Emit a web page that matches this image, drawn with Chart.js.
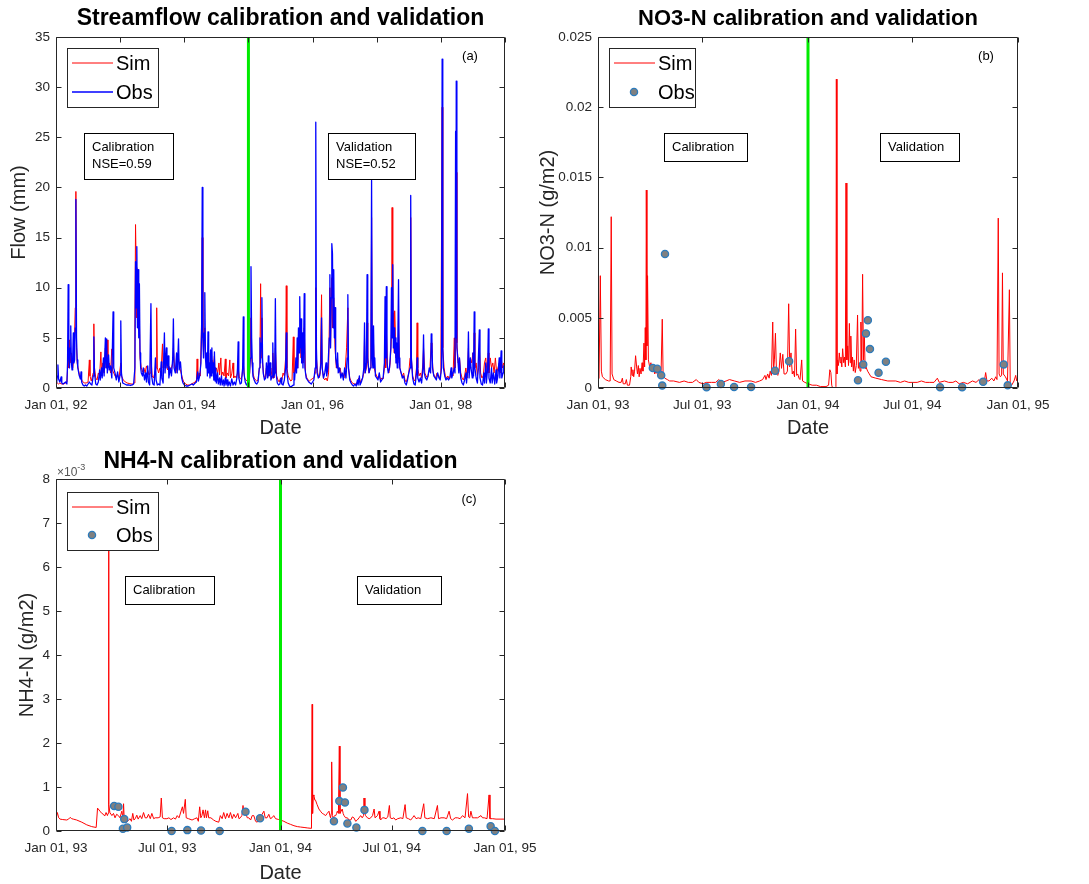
<!DOCTYPE html>
<html>
<head>
<meta charset="utf-8">
<title>Calibration and validation</title>
<script src="https://cdn.jsdelivr.net/npm/chart.js@4.4.1/dist/chart.umd.min.js"></script>
<style>
  html, body { margin: 0; padding: 0; background: #fff; }
  #wrap { position: relative; width: 1089px; height: 884px; overflow: hidden; }
  canvas { position: absolute; }
</style>
</head>
<body>
<div id="wrap">
  <canvas id="chartFlow" width="525" height="442" style="left:0px;top:0px"></canvas>
  <canvas id="chartNO3" width="564" height="442" style="left:525px;top:0px"></canvas>
  <canvas id="chartNH4" width="580" height="442" style="left:0px;top:442px"></canvas>
</div>
<script>
/*
  Three MATLAB-style panels redrawn with Chart.js.
  x values are decimal years.
*/

// ---- data ----
const splitFlow = 1995;   // calibration / validation split, streamflow
const splitNut = 1994;    // split for NO3-N and NH4-N

const flowTicks = [1992, 1993, 1994, 1995, 1996, 1997, 1998, 1999];
const flowTickLabels = ['Jan 01, 92', '', 'Jan 01, 94', '', 'Jan 01, 96', '', 'Jan 01, 98', ''];
const nutTicks = [1993, 1993.496, 1994, 1994.496, 1995];
const nutTickLabels = ['Jan 01, 93', 'Jul 01, 93', 'Jan 01, 94', 'Jul 01, 94', 'Jan 01, 95'];

// streamflow (mm), [year, value]
const flowObs = [
  [1992.00,0.8],[1992.01,0.5],[1992.02,1.2],[1992.03,2.3],[1992.04,0.9],[1992.06,0.6],[1992.08,1.1],[1992.09,0.5],[1992.11,0.4],[1992.13,0.5],
  [1992.15,0.6],[1992.17,0.4],[1992.18,2.5],[1992.19,10.3],[1992.20,3.0],[1992.21,2.0],[1992.22,4.0],[1992.23,6.2],[1992.24,2.5],[1992.25,1.8],
  [1992.26,3.0],[1992.27,5.5],[1992.28,2.5],[1992.29,2.8],[1992.30,6.0],[1992.31,18.8],[1992.32,5.0],[1992.33,2.8],[1992.34,2.0],[1992.36,1.3],
  [1992.38,0.9],[1992.39,1.6],[1992.40,0.6],[1992.42,0.3],[1992.44,0.2],[1992.46,0.3],[1992.48,0.2],[1992.50,0.4],[1992.52,0.6],[1992.54,0.4],
  [1992.56,0.3],[1992.58,1.2],[1992.59,5.1],[1992.60,1.5],[1992.62,0.4],[1992.64,0.3],[1992.66,0.6],[1992.68,1.8],[1992.69,0.8],[1992.71,2.0],
  [1992.72,1.0],[1992.74,3.0],[1992.75,1.2],[1992.77,5.0],[1992.78,2.0],[1992.79,4.9],[1992.80,1.5],[1992.82,3.3],[1992.83,1.8],[1992.85,2.2],
  [1992.87,1.0],[1992.89,7.6],[1992.90,2.0],[1992.92,1.5],[1992.94,0.8],[1992.96,1.6],[1992.98,0.6],[1993.00,1.3],[1993.01,6.7],[1993.02,1.5],
  [1993.04,0.5],[1993.07,0.4],[1993.10,0.3],[1993.13,0.3],[1993.16,0.25],[1993.19,0.3],[1993.21,0.4],[1993.23,2.0],[1993.24,12.6],[1993.25,8.0],
  [1993.26,14.1],[1993.27,6.0],[1993.28,11.8],[1993.29,5.0],[1993.30,10.4],[1993.31,3.5],[1993.32,2.0],[1993.33,1.5],[1993.35,1.2],[1993.36,2.0],
  [1993.38,0.8],[1993.40,1.5],[1993.41,0.6],[1993.43,2.2],[1993.44,0.6],[1993.46,0.3],[1993.48,8.4],[1993.49,1.2],[1993.51,0.4],[1993.53,0.3],
  [1993.55,3.0],[1993.56,0.8],[1993.58,0.3],[1993.60,0.4],[1993.62,0.3],[1993.64,2.6],[1993.65,1.0],[1993.67,0.5],[1993.69,5.5],[1993.70,1.5],
  [1993.72,4.0],[1993.73,2.0],[1993.75,3.2],[1993.76,1.0],[1993.78,2.0],[1993.80,1.2],[1993.82,3.0],[1993.83,6.9],[1993.84,2.0],[1993.86,1.5],
  [1993.88,3.5],[1993.89,1.5],[1993.91,4.9],[1993.92,1.8],[1993.94,2.6],[1993.96,1.0],[1993.98,0.5],[1994.00,0.3],[1994.03,0.2],[1994.06,0.2],
  [1994.09,0.3],[1994.12,0.4],[1994.14,0.3],[1994.17,0.5],[1994.19,0.6],[1994.21,1.6],[1994.22,0.7],[1994.24,1.2],[1994.26,2.5],[1994.27,6.0],
  [1994.28,20.0],[1994.29,5.0],[1994.30,3.0],[1994.31,5.5],[1994.32,9.5],[1994.33,3.0],[1994.34,2.0],[1994.35,3.5],[1994.36,1.2],[1994.37,5.6],
  [1994.38,1.5],[1994.39,2.5],[1994.40,1.0],[1994.41,3.8],[1994.42,1.2],[1994.43,4.0],[1994.44,1.5],[1994.45,2.5],[1994.46,0.8],[1994.47,3.6],
  [1994.48,0.7],[1994.49,2.0],[1994.50,0.5],[1994.52,1.5],[1994.53,0.4],[1994.55,1.0],[1994.56,0.3],[1994.58,1.2],[1994.59,0.3],[1994.61,0.8],
  [1994.62,0.2],[1994.64,1.0],[1994.65,0.3],[1994.67,0.8],[1994.68,0.2],[1994.70,0.6],[1994.72,0.2],[1994.74,0.9],[1994.76,0.3],[1994.78,0.6],
  [1994.80,0.3],[1994.82,1.0],[1994.83,2.0],[1994.84,4.6],[1994.85,1.0],[1994.87,0.4],[1994.89,0.5],[1994.91,2.0],[1994.92,7.1],[1994.93,1.5],
  [1994.95,0.6],[1994.97,0.3],[1994.99,0.5],[1995.01,0.8],[1995.03,3.0],[1995.04,12.1],[1995.05,5.0],[1995.06,2.5],[1995.07,1.2],[1995.09,0.8],
  [1995.11,0.5],[1995.13,0.4],[1995.15,0.6],[1995.17,2.0],[1995.18,5.0],[1995.19,2.5],[1995.20,4.5],[1995.21,9.0],[1995.22,3.0],[1995.23,1.5],
  [1995.25,0.8],[1995.27,1.0],[1995.28,2.5],[1995.30,1.0],[1995.31,3.2],[1995.32,1.2],[1995.34,2.5],[1995.35,0.8],[1995.37,1.2],[1995.38,4.5],
  [1995.39,1.0],[1995.41,1.5],[1995.42,8.9],[1995.43,1.5],[1995.45,0.5],[1995.47,0.3],[1995.49,0.4],[1995.51,1.0],[1995.52,0.4],[1995.54,0.3],
  [1995.56,0.8],[1995.58,2.0],[1995.59,5.5],[1995.60,1.5],[1995.62,0.5],[1995.64,0.2],[1995.66,0.1],[1995.68,0.2],[1995.70,0.3],[1995.71,1.5],
  [1995.72,0.8],[1995.74,3.0],[1995.75,1.5],[1995.76,5.0],[1995.77,2.0],[1995.78,6.0],[1995.79,3.5],[1995.80,9.1],[1995.81,4.0],[1995.82,6.9],
  [1995.83,2.5],[1995.84,5.5],[1995.85,2.0],[1995.86,4.0],[1995.87,9.4],[1995.88,2.0],[1995.90,1.0],[1995.92,0.8],[1995.94,0.6],[1995.96,0.5],
  [1995.98,0.4],[1996.00,0.6],[1996.02,0.8],[1996.04,2.0],[1996.05,26.5],[1996.06,4.0],[1996.07,1.5],[1996.09,1.0],[1996.11,1.2],[1996.13,2.5],
  [1996.14,7.0],[1996.15,2.0],[1996.17,1.0],[1996.19,1.5],[1996.21,2.5],[1996.22,1.2],[1996.24,2.0],[1996.26,5.0],[1996.27,11.3],[1996.28,4.0],
  [1996.29,9.0],[1996.30,14.4],[1996.31,13.4],[1996.32,6.0],[1996.33,11.8],[1996.34,5.0],[1996.35,8.0],[1996.36,3.0],[1996.38,2.0],[1996.39,3.5],
  [1996.40,1.5],[1996.42,2.0],[1996.44,1.0],[1996.46,1.5],[1996.48,0.8],[1996.50,2.0],[1996.52,1.0],[1996.54,3.0],[1996.55,9.3],[1996.56,2.0],
  [1996.58,0.8],[1996.60,0.5],[1996.62,0.3],[1996.64,0.2],[1996.66,0.4],[1996.68,0.2],[1996.70,0.8],[1996.71,0.3],[1996.73,1.2],[1996.74,0.3],
  [1996.76,0.6],[1996.78,1.0],[1996.80,2.0],[1996.81,6.5],[1996.82,1.5],[1996.84,2.5],[1996.85,11.3],[1996.86,3.0],[1996.88,1.5],[1996.90,2.0],
  [1996.91,5.0],[1996.92,20.7],[1996.93,3.0],[1996.94,2.0],[1996.95,6.2],[1996.96,2.0],[1996.97,3.0],[1996.98,1.2],[1997.00,1.0],[1997.02,0.8],
  [1997.04,1.5],[1997.06,0.6],[1997.08,0.8],[1997.10,1.0],[1997.12,2.5],[1997.13,9.1],[1997.14,3.0],[1997.15,10.1],[1997.16,2.5],[1997.18,1.5],
  [1997.20,2.0],[1997.22,4.0],[1997.23,10.0],[1997.24,5.0],[1997.25,12.3],[1997.26,4.0],[1997.27,6.0],[1997.28,3.5],[1997.29,5.0],[1997.30,2.5],
  [1997.31,4.5],[1997.32,2.0],[1997.33,5.0],[1997.34,10.8],[1997.35,3.0],[1997.36,2.0],[1997.38,1.5],[1997.40,1.0],[1997.42,1.2],[1997.44,0.5],
  [1997.46,0.3],[1997.48,0.8],[1997.50,1.5],[1997.52,2.0],[1997.53,19.2],[1997.54,3.0],[1997.56,1.0],[1997.58,0.4],[1997.60,0.3],[1997.62,1.5],
  [1997.63,3.0],[1997.64,1.0],[1997.66,0.6],[1997.68,1.0],[1997.70,0.5],[1997.72,2.0],[1997.73,5.3],[1997.74,1.5],[1997.76,1.0],[1997.78,0.8],
  [1997.80,1.2],[1997.82,2.0],[1997.84,1.5],[1997.85,5.4],[1997.86,5.0],[1997.87,2.0],[1997.89,1.2],[1997.91,1.0],[1997.93,0.8],[1997.95,1.5],
  [1997.97,1.0],[1997.99,0.8],[1998.01,2.0],[1998.02,32.8],[1998.03,4.0],[1998.04,2.0],[1998.06,1.2],[1998.08,0.8],[1998.10,1.0],[1998.12,0.8],
  [1998.14,1.0],[1998.16,2.0],[1998.17,1.0],[1998.19,1.5],[1998.21,2.0],[1998.22,1.5],[1998.23,25.6],[1998.235,5.0],[1998.24,30.6],[1998.25,4.0],
  [1998.26,3.2],[1998.28,1.5],[1998.29,3.0],[1998.31,1.0],[1998.33,0.5],[1998.35,0.3],[1998.37,0.8],[1998.39,1.5],[1998.40,0.5],[1998.42,2.0],
  [1998.43,5.6],[1998.44,1.0],[1998.46,3.0],[1998.47,2.0],[1998.49,1.0],[1998.50,3.5],[1998.51,1.2],[1998.52,7.6],[1998.53,2.0],[1998.55,1.0],
  [1998.57,0.5],[1998.58,2.0],[1998.60,5.8],[1998.61,1.0],[1998.63,0.4],[1998.65,0.3],[1998.67,1.5],[1998.68,0.5],[1998.70,2.5],[1998.71,0.5],
  [1998.73,2.0],[1998.74,5.9],[1998.75,1.0],[1998.77,0.5],[1998.79,2.0],[1998.80,0.5],[1998.82,1.5],[1998.84,0.4],[1998.86,1.8],[1998.87,0.5],
  [1998.89,1.2],[1998.91,3.0],[1998.92,1.0],[1998.94,3.7],[1998.95,1.0],[1998.97,1.5],[1998.98,2.2],[1999.00,1.2]
];

const flowSim = [
  [1992.00,0.6],[1992.02,0.5],[1992.04,0.4],[1992.06,0.5],[1992.09,0.4],[1992.12,0.4],[1992.15,0.5],[1992.17,0.6],[1992.19,3.0],[1992.20,2.0],
  [1992.21,4.8],[1992.22,2.5],[1992.24,3.5],[1992.26,2.0],[1992.28,3.0],[1992.30,8.0],[1992.31,19.6],[1992.32,4.0],[1992.33,2.5],[1992.35,1.8],
  [1992.37,1.2],[1992.39,1.0],[1992.41,0.7],[1992.44,0.5],[1992.47,0.5],[1992.50,0.6],[1992.52,2.8],[1992.53,1.2],[1992.55,0.7],[1992.58,1.5],
  [1992.59,6.4],[1992.60,2.0],[1992.62,1.0],[1992.64,0.8],[1992.66,1.5],[1992.68,1.2],[1992.70,3.6],[1992.71,1.5],[1992.73,2.5],[1992.75,1.5],
  [1992.77,4.0],[1992.78,2.0],[1992.80,4.8],[1992.81,2.0],[1992.83,2.5],[1992.85,1.5],[1992.87,3.9],[1992.88,1.8],[1992.90,1.5],[1992.92,1.2],
  [1992.94,1.0],[1992.96,1.4],[1992.98,0.9],[1993.01,2.5],[1993.02,1.2],[1993.05,0.8],[1993.08,0.6],[1993.11,0.5],[1993.14,0.45],[1993.17,0.4],
  [1993.20,0.4],[1993.22,0.5],[1993.23,6.0],[1993.24,16.3],[1993.25,12.0],[1993.26,7.0],[1993.27,9.0],[1993.28,6.0],[1993.30,7.0],[1993.31,3.0],
  [1993.33,2.0],[1993.35,1.6],[1993.37,2.0],[1993.39,1.5],[1993.41,2.2],[1993.43,1.8],[1993.45,1.3],[1993.47,1.5],[1993.48,3.0],[1993.50,1.2],
  [1993.52,1.0],[1993.54,1.5],[1993.56,2.0],[1993.57,8.0],[1993.58,2.0],[1993.60,1.5],[1993.62,2.0],[1993.64,1.8],[1993.66,4.4],[1993.67,2.0],
  [1993.69,3.5],[1993.70,2.0],[1993.72,2.5],[1993.74,1.8],[1993.76,2.2],[1993.78,1.5],[1993.80,2.0],[1993.82,2.5],[1993.83,4.0],[1993.85,2.0],
  [1993.87,1.5],[1993.89,2.5],[1993.91,3.0],[1993.93,2.0],[1993.95,1.5],[1993.97,1.0],[1993.99,0.6],[1994.02,0.4],[1994.05,0.3],[1994.08,0.3],
  [1994.11,0.4],[1994.14,0.5],[1994.17,0.6],[1994.19,0.8],[1994.20,2.9],[1994.21,1.0],[1994.23,1.5],[1994.25,1.2],[1994.27,6.6],[1994.28,15.0],
  [1994.29,5.0],[1994.30,3.5],[1994.32,6.0],[1994.33,3.0],[1994.35,2.5],[1994.37,3.5],[1994.38,2.0],[1994.40,2.5],[1994.42,1.8],[1994.43,2.8],
  [1994.45,2.0],[1994.47,3.2],[1994.48,1.5],[1994.50,2.0],[1994.52,1.5],[1994.54,2.5],[1994.55,1.3],[1994.57,3.0],[1994.58,1.2],[1994.60,1.6],
  [1994.62,1.2],[1994.64,2.9],[1994.65,1.0],[1994.67,1.5],[1994.69,1.2],[1994.71,2.8],[1994.72,1.0],[1994.74,1.4],[1994.76,2.5],[1994.77,1.0],
  [1994.79,1.2],[1994.81,1.0],[1994.83,1.5],[1994.84,2.0],[1994.86,1.0],[1994.88,0.9],[1994.90,1.2],[1994.92,2.5],[1994.94,1.0],[1994.96,0.8],
  [1994.98,0.7],[1995.00,0.8],[1995.02,1.5],[1995.04,7.0],[1995.05,3.0],[1995.07,1.5],[1995.09,1.0],[1995.11,0.8],[1995.13,0.7],[1995.15,0.8],
  [1995.17,2.0],[1995.18,3.0],[1995.19,10.4],[1995.20,3.0],[1995.21,7.0],[1995.22,2.5],[1995.24,1.2],[1995.26,1.0],[1995.28,2.0],[1995.30,1.0],
  [1995.31,2.5],[1995.33,1.2],[1995.35,2.0],[1995.37,1.0],[1995.38,3.5],[1995.40,1.0],[1995.42,4.0],[1995.44,1.2],[1995.46,0.8],[1995.48,0.6],
  [1995.50,1.0],[1995.52,0.8],[1995.54,1.5],[1995.56,1.2],[1995.58,3.0],[1995.59,10.2],[1995.60,2.0],[1995.62,1.2],[1995.64,0.9],[1995.66,0.7],
  [1995.68,0.8],[1995.70,5.1],[1995.71,1.5],[1995.73,2.0],[1995.75,2.5],[1995.77,2.0],[1995.78,4.0],[1995.80,5.0],[1995.82,3.0],[1995.84,4.0],
  [1995.86,2.5],[1995.87,6.0],[1995.89,1.5],[1995.91,1.0],[1995.93,0.8],[1995.95,0.7],[1995.97,0.8],[1995.99,0.9],[1996.02,1.0],[1996.04,1.5],
  [1996.05,10.0],[1996.06,3.0],[1996.08,1.5],[1996.10,1.0],[1996.12,1.5],[1996.14,9.3],[1996.15,2.0],[1996.17,1.0],[1996.19,0.8],[1996.21,1.0],
  [1996.23,0.7],[1996.25,1.5],[1996.27,10.0],[1996.28,4.0],[1996.30,11.0],[1996.31,6.0],[1996.33,9.0],[1996.35,4.0],[1996.37,2.0],[1996.39,2.5],
  [1996.41,1.5],[1996.43,2.0],[1996.45,1.2],[1996.47,1.5],[1996.49,1.0],[1996.51,2.0],[1996.53,4.0],[1996.55,8.0],[1996.56,2.0],[1996.58,1.0],
  [1996.60,0.7],[1996.62,0.5],[1996.65,0.4],[1996.68,0.4],[1996.70,0.6],[1996.72,1.0],[1996.74,0.6],[1996.76,0.8],[1996.78,1.0],[1996.80,1.5],
  [1996.81,5.0],[1996.82,1.5],[1996.84,2.0],[1996.85,6.5],[1996.86,2.5],[1996.88,1.5],[1996.90,2.0],[1996.91,4.0],[1996.92,17.0],[1996.93,3.0],
  [1996.95,4.5],[1996.96,2.0],[1996.98,1.5],[1997.00,1.2],[1997.02,1.0],[1997.04,1.2],[1997.06,0.8],[1997.08,1.0],[1997.10,0.9],[1997.12,2.0],
  [1997.13,5.0],[1997.14,2.0],[1997.15,6.0],[1997.17,2.0],[1997.19,1.5],[1997.21,2.5],[1997.23,5.0],[1997.24,18.0],[1997.25,6.0],[1997.26,7.5],
  [1997.27,3.5],[1997.28,7.7],[1997.30,3.0],[1997.31,4.0],[1997.33,2.5],[1997.34,6.0],[1997.36,2.0],[1997.38,1.5],[1997.40,1.2],[1997.42,1.5],
  [1997.44,0.8],[1997.46,0.6],[1997.48,1.0],[1997.50,1.5],[1997.52,3.0],[1997.53,17.0],[1997.54,3.0],[1997.56,1.2],[1997.58,0.8],[1997.60,0.7],
  [1997.62,2.0],[1997.63,6.5],[1997.64,2.0],[1997.66,1.2],[1997.68,1.5],[1997.70,1.0],[1997.72,2.5],[1997.73,4.0],[1997.75,1.5],[1997.77,1.2],
  [1997.79,1.0],[1997.81,1.5],[1997.83,2.0],[1997.85,4.5],[1997.86,3.5],[1997.88,1.5],[1997.90,1.2],[1997.92,1.0],[1997.94,1.5],[1997.96,1.2],
  [1997.98,1.0],[1998.00,1.5],[1998.02,28.0],[1998.03,4.0],[1998.05,2.0],[1998.07,1.2],[1998.09,1.0],[1998.11,1.2],[1998.13,0.9],[1998.15,1.2],
  [1998.17,1.5],[1998.19,1.2],[1998.21,5.0],[1998.22,2.0],[1998.23,4.0],[1998.24,21.5],[1998.25,4.5],[1998.27,2.5],[1998.29,3.0],[1998.31,1.5],
  [1998.33,1.0],[1998.35,0.8],[1998.37,1.2],[1998.39,2.0],[1998.41,1.0],[1998.43,4.0],[1998.44,1.5],[1998.46,3.0],[1998.48,2.5],[1998.50,3.5],
  [1998.51,1.5],[1998.52,5.5],[1998.53,2.0],[1998.55,2.5],[1998.57,1.2],[1998.59,2.0],[1998.60,4.0],[1998.62,1.5],[1998.64,1.0],[1998.66,1.2],
  [1998.68,2.5],[1998.70,3.0],[1998.72,1.5],[1998.74,3.5],[1998.75,1.5],[1998.77,3.0],[1998.79,2.0],[1998.81,2.5],[1998.83,1.5],[1998.85,3.0],
  [1998.87,1.5],[1998.89,2.0],[1998.91,2.5],[1998.93,1.5],[1998.94,3.0],[1998.96,2.0],[1998.98,2.5],[1999.00,1.5]
];

// NO3-N (g/m2)
const no3Sim = [
  [1993.000,0.0006],[1993.005,0.0007],[1993.011,0.0080],[1993.016,0.0012],[1993.021,0.0008],[1993.035,0.0006],[1993.050,0.0005],[1993.058,0.0005],
  [1993.063,0.0122],[1993.067,0.0010],[1993.075,0.0006],[1993.087,0.0005],[1993.100,0.0004],[1993.110,0.0004],[1993.116,0.0007],[1993.120,0.0003],
  [1993.130,0.0003],[1993.135,0.0006],[1993.140,0.0002],[1993.150,0.0002],[1993.156,0.0008],[1993.158,0.0015],[1993.162,0.0009],[1993.166,0.0013],
  [1993.170,0.0008],[1993.174,0.0012],[1993.179,0.0023],[1993.184,0.0015],[1993.188,0.0010],[1993.192,0.0016],[1993.196,0.0008],[1993.200,0.0014],
  [1993.205,0.0010],[1993.210,0.0018],[1993.214,0.0012],[1993.219,0.0032],[1993.222,0.0015],[1993.225,0.0043],[1993.228,0.0020],[1993.230,0.0141],
  [1993.233,0.0030],[1993.236,0.0080],[1993.240,0.0020],[1993.246,0.0015],[1993.252,0.0018],[1993.258,0.0012],[1993.264,0.0015],[1993.270,0.0010],
  [1993.277,0.0012],[1993.285,0.0009],[1993.293,0.0011],[1993.300,0.0009],[1993.306,0.0049],[1993.310,0.0010],[1993.318,0.0007],[1993.330,0.0006],
  [1993.341,0.0005],[1993.360,0.0005],[1993.388,0.0004],[1993.410,0.0005],[1993.430,0.0004],[1993.450,0.0004],[1993.468,0.0006],[1993.480,0.0004],
  [1993.500,0.0003],[1993.515,0.0004],[1993.540,0.0004],[1993.560,0.0004],[1993.575,0.0006],[1993.590,0.0004],[1993.610,0.0005],[1993.626,0.0006],
  [1993.650,0.0005],[1993.674,0.0004],[1993.700,0.0005],[1993.729,0.0005],[1993.750,0.0004],[1993.770,0.0005],[1993.784,0.0006],[1993.795,0.0009],
  [1993.800,0.0006],[1993.808,0.0010],[1993.815,0.0007],[1993.820,0.0012],[1993.826,0.0009],[1993.832,0.0047],[1993.836,0.0012],[1993.840,0.0020],
  [1993.845,0.0039],[1993.850,0.0010],[1993.856,0.0009],[1993.862,0.0012],[1993.868,0.0025],[1993.874,0.0014],[1993.880,0.0024],[1993.886,0.0010],
  [1993.895,0.0010],[1993.902,0.0012],[1993.908,0.0060],[1993.913,0.0015],[1993.919,0.0025],[1993.925,0.0010],[1993.930,0.0012],[1993.936,0.0008],
  [1993.941,0.0042],[1993.946,0.0009],[1993.951,0.0010],[1993.957,0.0007],[1993.962,0.0006],[1993.970,0.0020],[1993.974,0.0005],[1993.985,0.0004],
  [1994.000,0.0003],[1994.020,0.0002],[1994.040,0.0002],[1994.060,0.0001],[1994.086,0.0001],[1994.098,0.0002],[1994.104,0.0013],[1994.109,0.0011],
  [1994.113,0.0002],[1994.117,0.0000],[1994.130,0.0000],[1994.133,0.0001],[1994.135,0.0220],[1994.138,0.0010],[1994.141,0.0020],[1994.145,0.0016],
  [1994.149,0.0025],[1994.153,0.0018],[1994.157,0.0022],[1994.161,0.0015],[1994.165,0.0028],[1994.170,0.0018],[1994.174,0.0022],[1994.178,0.0015],
  [1994.181,0.0146],[1994.185,0.0020],[1994.189,0.0030],[1994.193,0.0016],[1994.197,0.0046],[1994.201,0.0018],[1994.204,0.0037],[1994.208,0.0015],
  [1994.212,0.0022],[1994.216,0.0012],[1994.220,0.0020],[1994.225,0.0011],[1994.230,0.0016],[1994.236,0.0052],[1994.240,0.0014],[1994.244,0.0018],
  [1994.248,0.0012],[1994.252,0.0047],[1994.256,0.0015],[1994.260,0.0081],[1994.264,0.0020],[1994.268,0.0040],[1994.272,0.0014],[1994.276,0.0015],
  [1994.284,0.0012],[1994.292,0.0010],[1994.300,0.0008],[1994.323,0.0007],[1994.350,0.0006],[1994.380,0.0005],[1994.418,0.0005],[1994.440,0.0004],
  [1994.460,0.0005],[1994.480,0.0004],[1994.498,0.0004],[1994.520,0.0004],[1994.540,0.0005],[1994.560,0.0004],[1994.580,0.0004],[1994.600,0.0004],
  [1994.616,0.0007],[1994.625,0.0004],[1994.650,0.0005],[1994.670,0.0004],[1994.690,0.0004],[1994.704,0.0005],[1994.720,0.0003],[1994.740,0.0004],
  [1994.760,0.0003],[1994.783,0.0005],[1994.800,0.0004],[1994.815,0.0006],[1994.825,0.0004],[1994.830,0.0007],[1994.840,0.0005],[1994.846,0.0011],
  [1994.852,0.0005],[1994.862,0.0005],[1994.875,0.0007],[1994.885,0.0005],[1994.894,0.0008],[1994.900,0.0006],[1994.906,0.0121],[1994.910,0.0010],
  [1994.916,0.0008],[1994.922,0.0009],[1994.926,0.0082],[1994.930,0.0010],[1994.940,0.0008],[1994.950,0.0005],[1994.959,0.0070],[1994.963,0.0003],
  [1994.970,0.0002],[1994.981,0.0005],[1994.989,0.0009],[1994.994,0.0005],[1995.000,0.0006]
];

const no3Obs = [
  [1993.261,0.00142],[1993.282,0.00137],[1993.301,0.00090],[1993.306,0.00017],[1993.319,0.00955],[1993.517,0.00005],
  [1993.585,0.00028],[1993.648,0.00007],[1993.729,0.00007],[1993.843,0.00123],[1993.910,0.00190],[1994.238,0.00055],
  [1994.263,0.00168],[1994.276,0.00389],[1994.285,0.00483],[1994.295,0.00277],[1994.336,0.00109],[1994.371,0.00187],
  [1994.629,0.00005],[1994.734,0.00005],[1994.834,0.00045],[1994.932,0.00168],[1994.951,0.00019]
];

// NH4-N, in units of 1e-3 g/m2
const nh4Sim = [
  [1993.000,0.29],[1993.006,0.42],[1993.012,0.30],[1993.018,0.27],[1993.030,0.26],[1993.048,0.25],[1993.056,0.27],[1993.063,0.31],[1993.070,0.28],
  [1993.077,0.27],[1993.092,0.25],[1993.115,0.20],[1993.137,0.14],[1993.159,0.10],[1993.179,0.08],[1993.185,0.52],[1993.196,0.45],[1993.204,0.40],
  [1993.211,0.38],[1993.217,0.34],[1993.223,0.42],[1993.229,0.35],[1993.232,0.40],[1993.234,7.00],[1993.236,0.60],[1993.240,0.42],[1993.249,0.35],
  [1993.256,0.40],[1993.263,0.30],[1993.270,0.38],[1993.278,0.35],[1993.285,0.30],[1993.293,0.45],[1993.298,0.30],[1993.301,0.62],[1993.304,0.25],
  [1993.308,0.22],[1993.315,0.20],[1993.322,0.24],[1993.330,0.28],[1993.336,0.22],[1993.342,0.40],[1993.347,0.25],[1993.353,0.28],[1993.360,0.36],
  [1993.366,0.27],[1993.375,0.35],[1993.382,0.28],[1993.390,0.42],[1993.397,0.30],[1993.405,0.30],[1993.412,0.38],[1993.420,0.28],[1993.427,0.40],
  [1993.435,0.28],[1993.442,0.30],[1993.455,0.30],[1993.464,0.32],[1993.469,0.75],[1993.474,0.30],[1993.482,0.28],[1993.494,0.28],[1993.503,0.30],
  [1993.512,0.26],[1993.524,0.30],[1993.532,0.27],[1993.540,0.35],[1993.548,0.30],[1993.563,0.55],[1993.568,0.40],[1993.576,0.72],[1993.580,0.30],
  [1993.590,0.28],[1993.606,0.25],[1993.618,0.28],[1993.628,0.30],[1993.634,0.22],[1993.640,0.55],[1993.645,0.30],[1993.650,0.35],[1993.655,0.48],
  [1993.661,0.30],[1993.666,0.48],[1993.670,0.30],[1993.676,0.46],[1993.680,0.30],[1993.690,0.30],[1993.702,0.25],[1993.712,0.22],[1993.725,0.20],
  [1993.732,0.35],[1993.740,0.28],[1993.747,0.42],[1993.755,0.28],[1993.762,0.40],[1993.770,0.30],[1993.777,0.42],[1993.785,0.28],[1993.792,0.38],
  [1993.800,0.30],[1993.810,0.40],[1993.815,0.28],[1993.821,0.30],[1993.828,0.35],[1993.833,0.58],[1993.838,0.40],[1993.844,0.42],[1993.852,0.30],
  [1993.859,0.30],[1993.867,0.25],[1993.874,0.35],[1993.881,0.35],[1993.889,0.22],[1993.896,0.20],[1993.904,0.30],[1993.911,0.30],[1993.918,0.38],
  [1993.926,0.45],[1993.932,0.30],[1993.940,0.30],[1993.948,0.38],[1993.955,0.28],[1993.962,0.30],[1993.970,0.35],[1993.978,0.28],[1993.985,0.27],
  [1993.992,0.26],[1994.000,0.25],[1994.015,0.22],[1994.030,0.18],[1994.045,0.15],[1994.060,0.12],[1994.075,0.10],[1994.089,0.09],[1994.105,0.08],
  [1994.119,0.07],[1994.138,0.06],[1994.140,0.06],[1994.141,2.88],[1994.143,0.40],[1994.146,0.82],[1994.149,0.80],[1994.153,0.70],[1994.156,0.70],
  [1994.163,0.60],[1994.171,0.50],[1994.178,0.45],[1994.186,0.40],[1994.193,0.38],[1994.201,0.35],[1994.208,0.40],[1994.216,0.45],[1994.220,0.35],
  [1994.223,0.30],[1994.226,0.40],[1994.228,1.57],[1994.231,0.35],[1994.235,0.30],[1994.241,0.35],[1994.246,0.35],[1994.250,0.40],[1994.253,0.45],
  [1994.258,0.40],[1994.262,1.93],[1994.265,0.40],[1994.270,0.45],[1994.275,0.50],[1994.279,0.40],[1994.283,0.35],[1994.290,0.30],[1994.298,0.30],
  [1994.305,0.25],[1994.313,0.25],[1994.320,0.32],[1994.327,0.30],[1994.335,0.22],[1994.342,0.25],[1994.350,0.30],[1994.357,0.35],[1994.364,0.30],
  [1994.370,0.35],[1994.372,0.75],[1994.376,0.40],[1994.379,0.35],[1994.387,0.30],[1994.395,0.28],[1994.402,0.30],[1994.410,0.35],[1994.417,0.50],
  [1994.421,0.30],[1994.424,0.30],[1994.432,0.35],[1994.439,0.45],[1994.443,0.28],[1994.446,0.25],[1994.454,0.30],[1994.461,0.30],[1994.470,0.28],
  [1994.478,0.32],[1994.485,0.58],[1994.489,0.30],[1994.497,0.28],[1994.505,0.30],[1994.513,0.25],[1994.522,0.28],[1994.536,0.30],[1994.545,0.28],
  [1994.555,0.60],[1994.560,0.30],[1994.570,0.28],[1994.580,0.25],[1994.588,0.30],[1994.595,0.35],[1994.604,0.28],[1994.613,0.30],[1994.625,0.28],
  [1994.638,0.62],[1994.643,0.30],[1994.655,0.28],[1994.670,0.30],[1994.685,0.28],[1994.699,0.58],[1994.704,0.28],[1994.715,0.30],[1994.729,0.30],
  [1994.740,0.28],[1994.751,0.45],[1994.758,0.28],[1994.766,0.25],[1994.778,0.30],[1994.789,0.30],[1994.800,0.28],[1994.811,0.35],[1994.822,0.30],
  [1994.833,0.85],[1994.838,0.32],[1994.843,0.30],[1994.848,0.45],[1994.855,0.30],[1994.863,0.30],[1994.878,0.30],[1994.893,0.35],[1994.900,0.30],
  [1994.908,0.30],[1994.920,0.28],[1994.929,0.82],[1994.933,0.28],[1994.945,0.28],[1994.960,0.27],[1994.982,0.27],[1995.000,0.27]
];

const nh4Obs = [
  [1993.259,0.57],[1993.278,0.55],[1993.304,0.27],[1993.298,0.05],[1993.317,0.08],[1993.515,0.00],[1993.585,0.02],[1993.646,0.01],
  [1993.729,0.00],[1993.844,0.44],[1993.909,0.29],[1994.238,0.22],[1994.262,0.68],[1994.278,0.99],[1994.287,0.65],[1994.298,0.17],
  [1994.338,0.08],[1994.374,0.48],[1994.632,0.00],[1994.740,0.00],[1994.839,0.05],[1994.936,0.11],[1994.955,0.00]
];

// ---- drawing ----
const $ = (id) => document.getElementById(id);
const FONT = '"Liberation Sans", Arial, Helvetica, sans-serif';
const INK = '#262626';
const RED = '#ff0000';
const BLUE = '#0000ff';
const GREEN = 'rgb(0,235,0)';

const pts = (pairs) => pairs.map(([x, y]) => ({ x, y }));

function simSet(data, width){
  return { label: 'Sim', data: pts(data), borderColor: RED, borderWidth: width || 1,
    pointRadius: 0, borderJoinStyle: 'round', order: 2 };
}
function obsLineSet(data){
  return { label: 'Obs', data: pts(data), borderColor: BLUE, borderWidth: 1.3,
    pointRadius: 0, borderJoinStyle: 'round', order: 1 };
}
function obsDotSet(data){
  return { label: 'Obs', data: pts(data), showLine: false, pointRadius: 3.6,
    pointBackgroundColor: '#808080', pointBorderColor: '#2b7bbd', pointBorderWidth: 1.3,
    clip: false, order: 1 };
}
function splitSet(x, y0, y1){
  return { label: 'split', data: [{ x, y: y0 }, { x, y: y1 }], borderColor: GREEN,
    borderWidth: 3, pointRadius: 0, order: 0 };
}

// MATLAB look: box, inward ticks on all sides, titles, legend and text boxes
const framePlugin = {
  id: 'frame',
  afterDatasetsDraw(chart, args, o){
    const ctx = chart.ctx;
    const a = chart.chartArea;
    const xs = chart.scales.x, ys = chart.scales.y;
    const L = Math.round(a.left) + 0.5, R = Math.round(a.right) - 0.5;
    const T = Math.round(a.top) + 0.5, B = Math.round(a.bottom) - 0.5;
    ctx.save();
    ctx.strokeStyle = INK;
    ctx.lineWidth = 1;
    ctx.beginPath();
    ctx.rect(L, T, R - L, B - T);
    const tl = 5;
    xs.ticks.forEach(t => {
      const px = Math.round(xs.getPixelForValue(t.value)) + 0.5;
      ctx.moveTo(px, B); ctx.lineTo(px, B - tl);
      ctx.moveTo(px, T); ctx.lineTo(px, T + tl);
    });
    ys.ticks.forEach(t => {
      const py = Math.round(ys.getPixelForValue(t.value)) + 0.5;
      ctx.moveTo(L, py); ctx.lineTo(L + tl, py);
      ctx.moveTo(R, py); ctx.lineTo(R - tl, py);
    });
    ctx.stroke();

    // legend (opaque, like MATLAB)
    const lg = o.legend;
    ctx.fillStyle = '#fff';
    ctx.fillRect(lg.x, lg.y, lg.w, lg.h);
    ctx.strokeStyle = INK;
    ctx.strokeRect(lg.x + 0.5, lg.y + 0.5, lg.w, lg.h);
    const entries = chart.data.datasets.filter(d => d.label === 'Sim' || d.label === 'Obs');
    entries.sort((p, q) => (p.label === 'Sim' ? 0 : 1) - (q.label === 'Sim' ? 0 : 1));
    entries.forEach((d, i) => {
      const ry = lg.rows[i];
      if(d.showLine === false){
        ctx.beginPath();
        ctx.arc(lg.x + 25, ry, d.pointRadius, 0, Math.PI * 2);
        ctx.fillStyle = d.pointBackgroundColor; ctx.fill();
        ctx.lineWidth = d.pointBorderWidth; ctx.strokeStyle = d.pointBorderColor; ctx.stroke();
      } else {
        ctx.beginPath();
        ctx.moveTo(lg.x + 5, ry); ctx.lineTo(lg.x + 46, ry);
        ctx.lineWidth = d.borderWidth; ctx.strokeStyle = d.borderColor; ctx.stroke();
      }
      ctx.fillStyle = '#000';
      ctx.font = `20px ${FONT}`;
      ctx.textAlign = 'left'; ctx.textBaseline = 'middle';
      ctx.fillText(d.label, lg.x + 49, ry + 1);
    });

    // text boxes
    ctx.lineWidth = 1;
    ctx.strokeStyle = '#000';
    ctx.font = `13px ${FONT}`;
    ctx.fillStyle = '#000';
    o.boxes.forEach(bx => {
      ctx.strokeRect(bx.x + 0.5, bx.y + 0.5, bx.w, bx.h);
      bx.lines.forEach((s, i) => ctx.fillText(s, bx.x + 8, bx.y + 14 + i * 17));
    });

    // panel letter
    ctx.textAlign = 'center';
    ctx.fillText(o.letter.text, o.letter.x, o.letter.y);

    // title and axis labels
    ctx.fillStyle = '#000';
    ctx.font = `bold ${o.titleSize}px ${FONT}`;
    ctx.fillText(o.title, (a.left + a.right) / 2, o.titleY);
    ctx.fillStyle = INK;
    ctx.font = `20px ${FONT}`;
    ctx.fillText('Date', (a.left + a.right) / 2, o.xLabelY);
    ctx.save();
    ctx.translate(o.yLabelX, (a.top + a.bottom) / 2);
    ctx.rotate(-Math.PI / 2);
    ctx.fillText(o.yLabel, 0, 0);
    ctx.restore();

    if(o.exponent){
      ctx.fillStyle = '#555';
      ctx.textAlign = 'left';
      ctx.font = `12px ${FONT}`;
      ctx.fillText('\u00d710', a.left + 1, a.top - 6);
      const w = ctx.measureText('\u00d710').width;
      ctx.font = `9px ${FONT}`;
      ctx.fillText(o.exponent, a.left + 1 + w, a.top - 11);
    }
    ctx.restore();
  }
};

function buildChart(canvasId, spec){
  const cv = $(canvasId);
  const W = cv.width, H = cv.height;
  const a = spec.area;
  const tickFont = { family: FONT, size: 13.5 };
  return new Chart(cv, {
    type: 'line',
    data: { datasets: spec.datasets },
    plugins: [framePlugin],
    options: {
      responsive: false,
      animation: false,
      devicePixelRatio: 1,
      layout: { padding: { left: 0, top: a.top, right: W - a.right, bottom: 0 } },
      plugins: {
        legend: { display: false },
        tooltip: { enabled: false },
        frame: spec.deco,
      },
      scales: {
        x: {
          type: 'linear', min: spec.xMin, max: spec.xMax,
          grid: { display: false, drawTicks: false },
          border: { display: false },
          afterBuildTicks: (s) => { s.ticks = spec.xTicks.map(v => ({ value: v })); },
          afterFit: (s) => { s.height = H - a.bottom; },
          ticks: {
            autoSkip: false, maxRotation: 0, minRotation: 0, padding: 9,
            color: INK, font: tickFont,
            callback: (v, i) => spec.xLabels[i],
          },
        },
        y: {
          type: 'linear', min: spec.yMin, max: spec.yMax,
          grid: { display: false, drawTicks: false },
          border: { display: false },
          afterFit: (s) => { s.width = a.left; },
          ticks: {
            stepSize: spec.yStep, padding: 6, color: INK, font: tickFont,
            callback: (v) => String(+Number(v).toFixed(4)),
          },
        },
      },
    },
  });
}

buildChart('chartFlow', {
  area: { left: 56, right: 505, top: 37, bottom: 388 },
  xMin: 1992, xMax: 1999, xTicks: flowTicks, xLabels: flowTickLabels,
  yMin: 0, yMax: 35, yStep: 5,
  datasets: [splitSet(splitFlow, 0, 35), obsLineSet(flowObs), simSet(flowSim)],
  deco: {
    title: 'Streamflow calibration and validation', titleY: 19, titleSize: 23,
    yLabel: 'Flow (mm)', yLabelX: 19, xLabelY: 428,
    legend: { x: 67, y: 48, w: 91, h: 59, rows: [63, 92] },
    boxes: [
      { x: 84, y: 133, w: 89, h: 46, lines: ['Calibration', 'NSE=0.59'] },
      { x: 328, y: 133, w: 87, h: 46, lines: ['Validation', 'NSE=0.52'] },
    ],
    letter: { text: '(a)', x: 470, y: 56 },
  },
});

buildChart('chartNO3', {
  area: { left: 73, right: 493, top: 37, bottom: 388 },
  xMin: 1993, xMax: 1995, xTicks: nutTicks, xLabels: nutTickLabels,
  yMin: 0, yMax: 0.025, yStep: 0.005,
  datasets: [splitSet(splitNut, 0, 0.025), obsDotSet(no3Obs), simSet(no3Sim)],
  deco: {
    title: 'NO3-N calibration and validation', titleY: 19, titleSize: 22,
    yLabel: 'NO3-N (g/m2)', yLabelX: 23, xLabelY: 428,
    legend: { x: 84, y: 48, w: 86, h: 59, rows: [63, 92] },
    boxes: [
      { x: 139, y: 133, w: 83, h: 28, lines: ['Calibration'] },
      { x: 355, y: 133, w: 79, h: 28, lines: ['Validation'] },
    ],
    letter: { text: '(b)', x: 461, y: 56 },
  },
});

buildChart('chartNH4', {
  area: { left: 56, right: 505, top: 37, bottom: 389 },
  xMin: 1993, xMax: 1995, xTicks: nutTicks, xLabels: nutTickLabels,
  yMin: 0, yMax: 8, yStep: 1,
  datasets: [splitSet(splitNut, 0, 8), obsDotSet(nh4Obs), simSet(nh4Sim)],
  deco: {
    title: 'NH4-N calibration and validation', titleY: 20, titleSize: 23,
    yLabel: 'NH4-N (g/m2)', yLabelX: 27, xLabelY: 431,
    legend: { x: 67, y: 50, w: 91, h: 58, rows: [65, 93] },
    boxes: [
      { x: 125, y: 134, w: 89, h: 28, lines: ['Calibration'] },
      { x: 357, y: 134, w: 84, h: 28, lines: ['Validation'] },
    ],
    letter: { text: '(c)', x: 469, y: 57 },
    exponent: '-3',
  },
});
</script>
</body>
</html>
